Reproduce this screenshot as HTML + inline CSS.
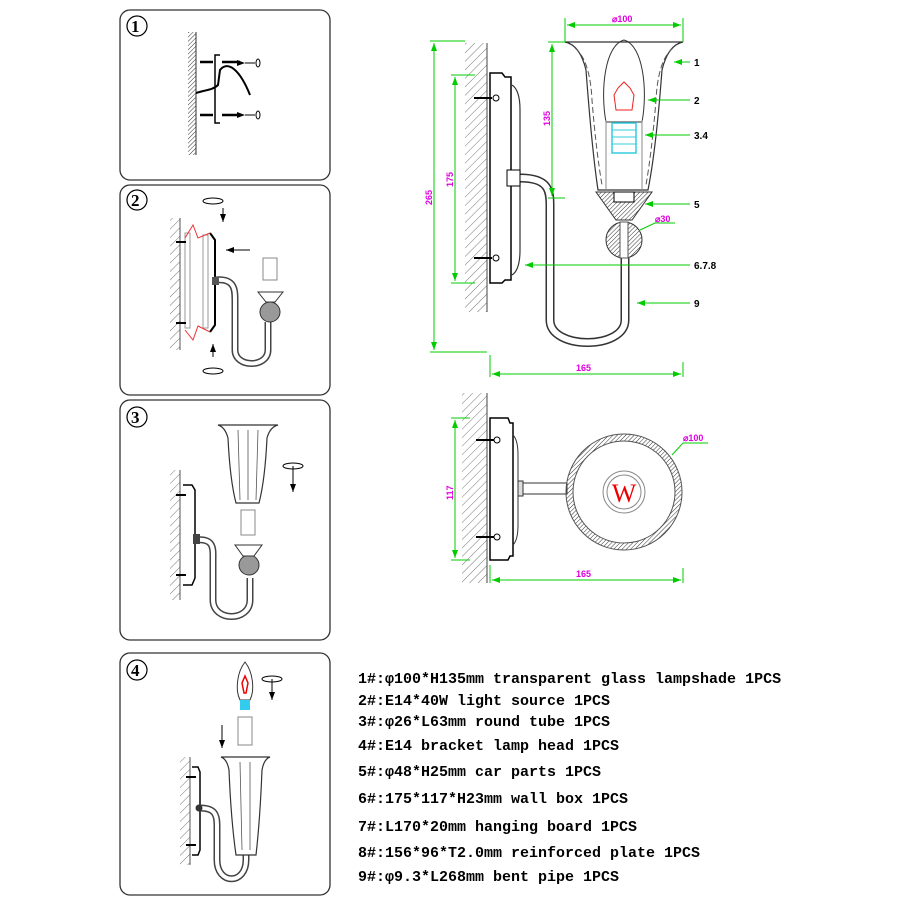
<!DOCTYPE html>
<html><head><meta charset="utf-8"><style>
html,body{margin:0;padding:0;background:#fff}
svg{display:block}
.t{font-family:"Liberation Mono",monospace;font-weight:bold;font-size:15px;fill:#000}
.m{font-family:"Liberation Sans",sans-serif;font-size:9px;fill:#e000e0;font-weight:bold}
.l{font-family:"Liberation Sans",sans-serif;font-size:10px;fill:#000;font-weight:bold}
.n{font-family:"Liberation Serif",serif;font-size:17px;font-weight:bold}
</style></head><body>
<svg width="900" height="900" viewBox="0 0 900 900" xmlns="http://www.w3.org/2000/svg">
<defs>
<pattern id="h" width="6" height="6" patternUnits="userSpaceOnUse" patternTransform="rotate(45)">
<line x1="0" y1="0" x2="0" y2="6" stroke="#777" stroke-width="1"/></pattern>
<pattern id="hd" width="3" height="3" patternUnits="userSpaceOnUse" patternTransform="rotate(45)">
<line x1="0" y1="0" x2="0" y2="3" stroke="#333" stroke-width="1"/></pattern>
<marker id="ag" markerWidth="8" markerHeight="6" refX="8" refY="3" orient="auto"><path d="M0,0L8,3L0,6z" fill="#0c0"/></marker>
<marker id="ag2" markerWidth="8" markerHeight="6" refX="0" refY="3" orient="auto"><path d="M8,0L0,3L8,6z" fill="#0c0"/></marker>
<marker id="ab" markerWidth="8" markerHeight="6" refX="8" refY="3" orient="auto"><path d="M0,0L8,3L0,6z" fill="#000"/></marker>
</defs>

<!-- Panels -->
<g fill="none" stroke="#333" stroke-width="1.3">
<rect x="120" y="10" width="210" height="170" rx="10"/>
<rect x="120" y="185" width="210" height="210" rx="10"/>
<rect x="120" y="400" width="210" height="240" rx="10"/>
<rect x="120" y="653" width="210" height="242" rx="10"/>
</g>
<g fill="none" stroke="#000" stroke-width="1.2">
<circle cx="137" cy="26" r="10"/><circle cx="137" cy="200" r="10"/>
<circle cx="137" cy="417" r="10"/><circle cx="137" cy="670" r="10"/>
</g>
<text class="n" x="131" y="32">1</text><text class="n" x="131" y="206">2</text>
<text class="n" x="131" y="423">3</text><text class="n" x="131" y="676">4</text>

<!-- Panel 1 -->
<rect x="188" y="32" width="8" height="123" fill="url(#hd)"/>
<line x1="196" y1="32" x2="196" y2="155" stroke="#333"/>
<path d="M220,55 H215 V123 H220" fill="none" stroke="#000" stroke-width="1.5"/>
<g stroke="#000" stroke-width="2.5"><line x1="200" y1="62" x2="213" y2="62"/><line x1="200" y1="115" x2="213" y2="115"/>
<line x1="222" y1="62" x2="240" y2="62"/><line x1="222" y1="115" x2="240" y2="115"/></g>
<g stroke="#000" stroke-width="1" fill="none"><line x1="245" y1="63" x2="255" y2="63" marker-start="url(#ab)"/><line x1="245" y1="115" x2="255" y2="115" marker-start="url(#ab)"/>
<ellipse cx="258" cy="63" rx="2" ry="4"/><ellipse cx="258" cy="115" rx="2" ry="4"/>
<path d="M196,93 C205,90 213,90 218,85 L220,70 C228,60 240,70 250,95" stroke-width="2"/></g>

<!-- Panel 2 -->
<rect x="170" y="218" width="10" height="132" fill="url(#h)"/>
<line x1="180" y1="218" x2="180" y2="350" stroke="#555"/>
<rect x="185" y="233" width="5" height="95" fill="none" stroke="#999"/>
<rect x="203" y="235" width="5" height="93" fill="none" stroke="#999"/>
<path d="M210,233 L215,240 V325 L210,332" fill="none" stroke="#000" stroke-width="2"/>
<path d="M185,238 L193,225 L198,238 L210,233 M185,330 L193,340 L198,326 L210,332" fill="none" stroke="#e33" stroke-width="1"/>
<g stroke="#000" stroke-width="2"><line x1="176" y1="242" x2="186" y2="242"/><line x1="176" y1="323" x2="186" y2="323"/></g>
<line x1="250" y1="250" x2="226" y2="250" stroke="#000" marker-end="url(#ab)"/>
<line x1="223" y1="208" x2="223" y2="222" stroke="#000" marker-end="url(#ab)"/>
<line x1="213" y1="357" x2="213" y2="344" stroke="#000" marker-end="url(#ab)"/>
<ellipse cx="213" cy="201" rx="10" ry="3" fill="none" stroke="#000"/>
<ellipse cx="213" cy="371" rx="10" ry="3" fill="none" stroke="#000"/>
<path d="M215,280 C235,278 235,290 235,300 V350 C235,368 268,368 268,350 V322" fill="none" stroke="#444" stroke-width="7"/>
<path d="M215,280 C235,278 235,290 235,300 V350 C235,368 268,368 268,350 V322" fill="none" stroke="#fff" stroke-width="4"/>
<rect x="212" y="277" width="7" height="8" fill="#555"/>
<circle cx="270" cy="312" r="10" fill="#999" stroke="#333"/>
<path d="M258,292 H283 L275,302 H266 Z" fill="#fff" stroke="#333"/>
<rect x="263" y="258" width="14" height="22" fill="#fff" stroke="#888"/>

<!-- Panel 3 -->
<rect x="170" y="470" width="10" height="130" fill="url(#h)"/>
<line x1="180" y1="470" x2="180" y2="600" stroke="#555"/>
<path d="M183,485 H192 L195,490 V578 L192,585 H183" fill="#fff" stroke="#000" stroke-width="1.5"/>
<g stroke="#000" stroke-width="2"><line x1="176" y1="495" x2="186" y2="495"/><line x1="176" y1="575" x2="186" y2="575"/></g>
<path d="M196,540 C215,538 213,550 213,560 V600 C213,622 250,622 250,600 V578" fill="none" stroke="#444" stroke-width="7"/>
<path d="M196,540 C215,538 213,550 213,560 V600 C213,622 250,622 250,600 V578" fill="none" stroke="#fff" stroke-width="4"/>
<rect x="193" y="534" width="7" height="10" fill="#444"/>
<circle cx="249" cy="565" r="10" fill="#999" stroke="#333"/>
<path d="M235,545 H262 L254,556 H243 Z" fill="#fff" stroke="#333"/>
<rect x="241" y="510" width="14" height="25" fill="#fff" stroke="#888"/>
<path d="M218,425 Q225,427 228,438 Q230,480 236,503 H259 Q265,480 267,438 Q270,427 278,425 Z" fill="#fff" stroke="#333" stroke-width="1.2"/>
<g stroke="#555" stroke-width="0.8"><line x1="238" y1="430" x2="240" y2="500"/><line x1="248" y1="430" x2="248" y2="500"/><line x1="258" y1="430" x2="256" y2="500"/></g>
<ellipse cx="293" cy="466" rx="10" ry="3" fill="none" stroke="#000"/>
<line x1="293" y1="466" x2="293" y2="492" stroke="#000" marker-end="url(#ab)"/>

<!-- Panel 4 -->
<rect x="180" y="757" width="10" height="108" fill="url(#h)"/>
<line x1="190" y1="757" x2="190" y2="865" stroke="#555"/>
<path d="M192,767 H198 L200,772 V850 L198,855 H192" fill="#fff" stroke="#000" stroke-width="1.5"/>
<g stroke="#000" stroke-width="2"><line x1="186" y1="777" x2="196" y2="777"/><line x1="186" y1="845" x2="196" y2="845"/></g>
<path d="M200,808 C215,808 217,815 217,825 V860 C217,885 246,885 246,860 V845" fill="none" stroke="#444" stroke-width="7"/>
<path d="M200,808 C215,808 217,815 217,825 V860 C217,885 246,885 246,860 V845" fill="none" stroke="#fff" stroke-width="4"/>
<circle cx="199" cy="808" r="3.5" fill="#333"/>
<circle cx="248" cy="835" r="7" fill="#999" stroke="#333"/>
<path d="M221,757 Q227,759 229,770 Q231,820 236,855 H256 Q260,820 262,770 Q264,759 270,757 Z" fill="#fff" stroke="#333" stroke-width="1.2"/>
<g stroke="#555" stroke-width="0.8"><line x1="240" y1="762" x2="242" y2="850"/><line x1="250" y1="762" x2="250" y2="850"/></g>
<rect x="238" y="717" width="14" height="28" fill="#fff" stroke="#888"/>
<path d="M245,662 C237,672 235,690 240,700 H250 C255,690 253,672 245,662 Z" fill="#fff" stroke="#333"/>
<path d="M242,683 L245,676 L248,683 L246,693 H244 Z" fill="none" stroke="#e00" stroke-width="1.5"/>
<rect x="240" y="700" width="10" height="10" fill="#3ce"/>
<line x1="222" y1="725" x2="222" y2="748" stroke="#000" marker-end="url(#ab)"/>
<ellipse cx="272" cy="679" rx="10" ry="3" fill="none" stroke="#000"/>
<line x1="272" y1="679" x2="272" y2="700" stroke="#000" marker-end="url(#ab)"/>

<!-- Main drawing 1 -->
<rect x="465" y="43" width="22" height="269" fill="url(#h)"/>
<line x1="487" y1="43" x2="487" y2="312" stroke="#444"/>
<path d="M490,73 H502 L505,77 H511 V280 H505 L502,283 H490 Z" fill="#fff" stroke="#000" stroke-width="1.5"/>
<path d="M512,85 Q520,90 520,110 V250 Q520,270 512,275" fill="none" stroke="#333" stroke-width="1.2"/>
<g stroke="#000" stroke-width="2"><line x1="474" y1="98" x2="492" y2="98"/><line x1="474" y1="258" x2="492" y2="258"/></g>
<circle cx="496" cy="98" r="3" fill="#fff" stroke="#000"/><circle cx="496" cy="258" r="3" fill="#fff" stroke="#000"/>
<path d="M520,178 C548,178 550,190 550,205 V320 C550,350 625,350 625,320 V258" fill="none" stroke="#333" stroke-width="9"/>
<path d="M520,178 C548,178 550,190 550,205 V320 C550,350 625,350 625,320 V258" fill="none" stroke="#fff" stroke-width="6"/>
<rect x="507" y="170" width="13" height="16" fill="#fff" stroke="#000"/>
<path d="M565,42 Q580,45 586,70 Q592,150 598,190 H648 Q656,150 662,70 Q668,45 683,42 Z" fill="#fff" stroke="#333" stroke-width="1.2"/>
<path d="M575,48 Q590,60 592,100 Q596,150 602,185 M673,48 Q658,60 656,100 Q652,150 646,185" fill="none" stroke="#555" stroke-dasharray="6,3"/>
<path d="M624,40 C605,45 600,90 606,122 H642 C648,90 643,45 624,40 Z" fill="none" stroke="#333"/>
<path d="M616,110 L614,95 L618,88 L624,82 L630,88 L634,95 L632,110 Z" fill="none" stroke="#e22"/>
<rect x="612" y="123" width="24" height="30" fill="none" stroke="#3cd" stroke-width="1.5"/>
<line x1="612" y1="130" x2="636" y2="130" stroke="#3cd"/><line x1="612" y1="137" x2="636" y2="137" stroke="#3cd"/><line x1="612" y1="144" x2="636" y2="144" stroke="#3cd"/>
<line x1="606" y1="120" x2="606" y2="190" stroke="#888"/><line x1="642" y1="120" x2="642" y2="190" stroke="#888"/>
<path d="M596,192 H652 L632,220 H616 Z" fill="url(#hd)" stroke="#333"/>
<rect x="614" y="192" width="20" height="10" fill="#fff" stroke="#000"/>
<circle cx="624" cy="240" r="18" fill="url(#hd)" stroke="#333"/>
<rect x="620" y="222" width="8" height="36" fill="#fff" stroke="#555"/>
<!-- dims -->
<g stroke="#0c0" stroke-width="1" fill="none">
<line x1="567" y1="25" x2="681" y2="25" marker-start="url(#ag2)" marker-end="url(#ag)"/>
<line x1="565" y1="18" x2="565" y2="42"/><line x1="683" y1="18" x2="683" y2="42"/>
<line x1="434" y1="43" x2="434" y2="350" marker-start="url(#ag2)" marker-end="url(#ag)"/>
<line x1="430" y1="41" x2="465" y2="41"/><line x1="430" y1="352" x2="487" y2="352"/>
<line x1="455" y1="77" x2="455" y2="281" marker-start="url(#ag2)" marker-end="url(#ag)"/>
<line x1="451" y1="75" x2="475" y2="75"/><line x1="451" y1="283" x2="475" y2="283"/>
<line x1="552" y1="44" x2="552" y2="196" marker-start="url(#ag2)" marker-end="url(#ag)"/>
<line x1="548" y1="42" x2="565" y2="42"/><line x1="548" y1="198" x2="565" y2="198"/>
<line x1="492" y1="374" x2="681" y2="374" marker-start="url(#ag2)" marker-end="url(#ag)"/>
<line x1="490" y1="355" x2="490" y2="377"/><line x1="683" y1="362" x2="683" y2="377"/>
<line x1="690" y1="62" x2="674" y2="62" marker-end="url(#ag)"/>
<line x1="690" y1="100" x2="648" y2="100" marker-end="url(#ag)"/>
<line x1="690" y1="135" x2="645" y2="135" marker-end="url(#ag)"/>
<line x1="690" y1="204" x2="645" y2="204" marker-end="url(#ag)"/>
<line x1="690" y1="265" x2="525" y2="265" marker-end="url(#ag)"/>
<line x1="690" y1="303" x2="637" y2="303" marker-end="url(#ag)"/>
<path d="M640,230 L655,223 H675"/>
</g>
<text class="m" x="612" y="22">⌀100</text>
<text class="m" x="655" y="222">⌀30</text>
<text class="m" x="576" y="371">165</text>
<text class="m" transform="translate(432,205) rotate(-90)">265</text>
<text class="m" transform="translate(453,187) rotate(-90)">175</text>
<text class="m" transform="translate(550,126) rotate(-90)">135</text>
<text class="l" x="694" y="66">1</text><text class="l" x="694" y="104">2</text>
<text class="l" x="694" y="139">3.4</text><text class="l" x="694" y="208">5</text>
<text class="l" x="694" y="269">6.7.8</text><text class="l" x="694" y="307">9</text>

<!-- Main drawing 2 -->
<rect x="462" y="393" width="25" height="190" fill="url(#h)"/>
<line x1="487" y1="393" x2="487" y2="583" stroke="#444"/>
<path d="M490,418 H508 L510,423 H513 V556 H510 L508,560 H490 Z" fill="#fff" stroke="#000" stroke-width="1.5"/>
<path d="M513,435 Q518,440 518,455 V525 Q518,540 513,545" fill="none" stroke="#333"/>
<g stroke="#000" stroke-width="2"><line x1="476" y1="440" x2="494" y2="440"/><line x1="476" y1="537" x2="494" y2="537"/></g>
<circle cx="497" cy="440" r="3" fill="#fff" stroke="#000"/><circle cx="497" cy="537" r="3" fill="#fff" stroke="#000"/>
<rect x="519" y="483" width="48" height="11" fill="#fff" stroke="#333"/>
<rect x="518" y="481" width="5" height="15" fill="#ddd" stroke="#333"/>
<circle cx="624" cy="492" r="58" fill="url(#hd)" stroke="#555"/>
<circle cx="624" cy="492" r="51" fill="#fff" stroke="#555"/>
<circle cx="624" cy="492" r="21" fill="none" stroke="#888"/>
<circle cx="624" cy="492" r="17" fill="none" stroke="#888"/>
<text x="624" y="502" text-anchor="middle" font-family="Liberation Serif,serif" font-size="26" fill="#e00">W</text>
<g stroke="#0c0" stroke-width="1" fill="none">
<line x1="455" y1="420" x2="455" y2="558" marker-start="url(#ag2)" marker-end="url(#ag)"/>
<line x1="451" y1="418" x2="470" y2="418"/><line x1="451" y1="560" x2="470" y2="560"/>
<line x1="492" y1="580" x2="681" y2="580" marker-start="url(#ag2)" marker-end="url(#ag)"/>
<line x1="490" y1="565" x2="490" y2="583"/><line x1="683" y1="568" x2="683" y2="583"/>
<path d="M672,455 L683,443 H708"/>
</g>
<text class="m" x="683" y="441">⌀100</text>
<text class="m" x="576" y="577">165</text>
<text class="m" transform="translate(453,500) rotate(-90)">117</text>

<!-- Parts list -->
<text class="t" x="358" y="683">1#:φ100*H135mm transparent glass lampshade 1PCS</text>
<text class="t" x="358" y="705">2#:E14*40W light source 1PCS</text>
<text class="t" x="358" y="726">3#:φ26*L63mm round tube 1PCS</text>
<text class="t" x="358" y="750">4#:E14 bracket lamp head 1PCS</text>
<text class="t" x="358" y="776">5#:φ48*H25mm car parts 1PCS</text>
<text class="t" x="358" y="803">6#:175*117*H23mm wall box 1PCS</text>
<text class="t" x="358" y="831">7#:L170*20mm hanging board 1PCS</text>
<text class="t" x="358" y="857">8#:156*96*T2.0mm reinforced plate 1PCS</text>
<text class="t" x="358" y="881">9#:φ9.3*L268mm bent pipe 1PCS</text>
</svg>
</body></html>
